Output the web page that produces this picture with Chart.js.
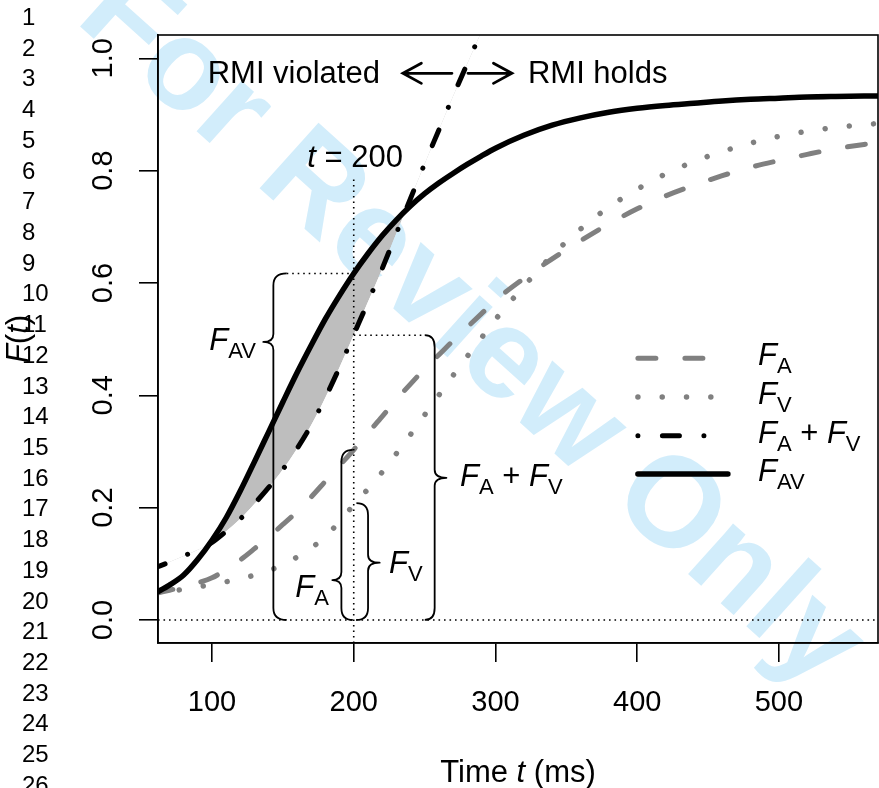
<!DOCTYPE html>
<html><head><meta charset="utf-8">
<script src="https://cdn.jsdelivr.net/npm/chart.js@4/dist/chart.umd.min.js"></script>
<style>html,body{margin:0;padding:0;background:#fff;overflow:hidden}canvas{display:block}</style>
</head><body>
<canvas id="c" width="879" height="788"></canvas>
<script>
// ---- data ----
const timeMs = [60,70,80,90,100,110,120,130,140,150,160,170,180,190,200,210,220,230,240,250,260,270,280,290,300,320,340,360,380,400,420,440,460,480,500,520,540,570];
const fAV = [.048,.062,.080,.108,.142,.182,.230,.282,.335,.388,.440,.489,.536,.578,.617,.652,.684,.712,.737,.759,.778,.795,.811,.826,.840,.863,.881,.894,.904,.911,.916,.920,.924,.927,.929,.931,.932,.933];
const fA  = [.047,.053,.059,.066,.075,.090,.107,.127,.148,.170,.193,.219,.247,.275,.303,.333,.362,.392,.420,.447,.472,.497,.521,.545,.569,.608,.643,.675,.705,.732,.755,.774,.791,.806,.818,.829,.839,.850];
const fV  = [.046,.050,.055,.059,.063,.068,.073,.080,.088,.098,.112,.128,.149,.175,.205,.233,.263,.296,.330,.365,.400,.435,.469,.502,.535,.594,.649,.696,.735,.767,.794,.816,.834,.849,.861,.870,.877,.884];
const timeSum = [60,70,80,90,100,110,120,130,140,150,160,170,180,190,200,210,220,230,240,250,260,270,280,290,300];
const fAplusV = [.093,.103,.114,.125,.138,.158,.180,.207,.236,.268,.305,.347,.396,.450,.508,.566,.625,.688,.750,.812,.872,.932,.990,1.047,1.104];
const xTicks = [100,200,300,400,500];
const xTickLabels = ['100','200','300','400','500'];
const yTicks = [0,0.2,0.4,0.6,0.8,1.0];
const yTickLabels = ['0.0','0.2','0.4','0.6','0.8','1.0'];
const lineNumbers = ['1','2','3','4','5','6','7','8','9','10','11','12','13','14','15','16','17','18','19','20','21','22','23','24','25','26'];
const xTitle = [['Time ','n'],['t','i'],[' (ms)','n']];
const yTitle = [['F','i'],['(','n'],['t','i'],[')','n']];
const legendLabels = [
  [['F','i'],['A','s']],
  [['F','i'],['V','s']],
  [['F','i'],['A','s'],[' + ','n'],['F','i'],['V','s']],
  [['F','i'],['AV','s']]
];

const FAM = '"Liberation Sans", Arial, Helvetica, sans-serif';
const GRAY = '#808080';
const styles = [
  {color: GRAY, width: 5, dash: [18, 29], offset: 0},
  {color: GRAY, width: 5.5, dash: [0.01, 24.3], offset: 0},
  {color: '#000', width: 5, dash: [0.01, 24.5, 17, 24.5], offset: 31},
  {color: '#000', width: 5.5, dash: [], offset: 0}
];

function fontFor(kind){
  if (kind === 'i') return 'italic 31px ' + FAM;
  if (kind === 's') return '22px ' + FAM;
  return '31px ' + FAM;
}
function mathWidth(c, parts){
  let w = 0;
  for (const [t,k] of parts){ c.font = fontFor(k); w += c.measureText(t).width; }
  return w;
}
function drawMath(c, parts, x, base, align){
  const w = mathWidth(c, parts);
  let cx = align === 'right' ? x - w : (align === 'center' ? x - w/2 : x);
  c.textAlign = 'left'; c.textBaseline = 'alphabetic'; c.fillStyle = '#000';
  for (const [t,k] of parts){
    c.font = fontFor(k);
    c.fillText(t, cx, k === 's' ? base + 8 : base);
    cx += c.measureText(t).width;
  }
}
function brace(c, xEnd, xStem, xTip, yBot, yTop, yTip){
  const r = 12, rt = 8;
  c.beginPath();
  c.moveTo(xEnd, yTop);
  c.quadraticCurveTo(xStem, yTop, xStem, yTop + r);
  c.lineTo(xStem, yTip - rt);
  c.quadraticCurveTo(xStem, yTip, xTip, yTip);
  c.quadraticCurveTo(xStem, yTip, xStem, yTip + rt);
  c.lineTo(xStem, yBot - r);
  c.quadraticCurveTo(xStem, yBot, xEnd, yBot);
  c.stroke();
}
function arrow(c, x0, y0, x1, y1){
  const ang = Math.atan2(y1-y0, x1-x0), L = 21, a = 28.6*Math.PI/180;
  c.beginPath();
  c.moveTo(x0,y0); c.lineTo(x1,y1);
  c.moveTo(x1 - L*Math.cos(ang-a), y1 - L*Math.sin(ang-a));
  c.lineTo(x1,y1);
  c.lineTo(x1 - L*Math.cos(ang+a), y1 - L*Math.sin(ang+a));
  c.stroke();
}

const annot = {
  id: 'annot',
  beforeDraw(chart){
    const c = chart.ctx;
    c.save();
    c.fillStyle = '#fff'; c.fillRect(0,0,chart.width,chart.height);
    c.translate(470, 330); c.rotate(42*Math.PI/180);
    c.font = 'bold 128px ' + FAM; c.fillStyle = '#d2edfb';
    c.textAlign = 'center'; c.textBaseline = 'middle';
    c.fillText('For Review Only', 0, 0);
    c.restore();
  },
  afterDatasetsDraw(chart){
    const c = chart.ctx, X = chart.scales.x, Y = chart.scales.y, A = chart.chartArea;
    const px = v => X.getPixelForValue(v), py = v => Y.getPixelForValue(v);
    c.save();
    c.beginPath(); c.rect(A.left, A.top, A.right-A.left, A.bottom-A.top); c.clip();
    // dotted reference lines
    c.strokeStyle = '#000'; c.lineWidth = 1.6; c.setLineDash([1.6, 3.9]); c.lineCap = 'butt';
    const dl = (x0,y0,x1,y1) => { c.beginPath(); c.moveTo(px(x0),py(y0)); c.lineTo(px(x1),py(y1)); c.stroke(); };
    dl(200, -0.041, 200, 0.79);
    dl(61.9, 0, 569.9, 0);
    dl(152.7, 0.617, 200, 0.617);
    dl(200, 0.507, 250.1, 0.507);
    c.setLineDash([]);
    // braces
    c.lineWidth = 1.8; c.lineJoin = 'round';
    brace(c, px(152.7), px(143.3), px(136.2), py(0), py(0.617), py(0.495));
    brace(c, px(199.3), px(191.3), px(184.9), py(0), py(0.303), py(0.071));
    brace(c, px(201.9), px(210.1), px(218.3), py(0), py(0.208), py(0.102));
    brace(c, px(250.1), px(257.1), px(265.4), py(0), py(0.507), py(0.253));
    // brace labels
    drawMath(c, [['F','i'],['AV','s']], px(131.0), py(0.481), 'right');
    drawMath(c, [['F','i'],['A','s']], px(182.5), py(0.041), 'right');
    drawMath(c, [['F','i'],['V','s']], px(224.9), py(0.084), 'left');
    drawMath(c, [['F','i'],['A','s'],[' + ','n'],['F','i'],['V','s']], px(275.0), py(0.2386), 'left');
    // t = 200
    drawMath(c, [['t','i'],[' = 200','n']], px(201), py(0.806), 'center');
    // RMI texts and arrows
    drawMath(c, [['RMI violated','n']], px(218.5), py(0.9555), 'right');
    drawMath(c, [['RMI holds','n']], px(322.9), py(0.9555), 'left');
    c.lineWidth = 2.8; c.lineCap = 'round'; c.lineJoin = 'miter';
    arrow(c, px(269.3), py(0.9733), px(234.7), py(0.9733));
    arrow(c, px(280.6), py(0.9733), px(311.6), py(0.9733));
    // legend
    const legY = [0.466, 0.397, 0.328, 0.260];
    for (let i = 0; i < 4; i++){
      const s = styles[i];
      c.strokeStyle = s.color; c.lineWidth = s.width; c.setLineDash(s.dash); c.lineDashOffset = 0; c.lineCap = 'round';
      c.beginPath(); c.moveTo(px(400.5), py(legY[i])); c.lineTo(px(464), py(legY[i])); c.stroke();
      c.setLineDash([]);
      drawMath(c, legendLabels[i], px(485.2), py(legY[i]) + 7, 'left');
    }
    c.restore();
  },
  afterDraw(chart){
    const c = chart.ctx, X = chart.scales.x, Y = chart.scales.y, A = chart.chartArea;
    c.save();
    c.strokeStyle = '#000'; c.lineWidth = 1.6;
    c.strokeRect(A.left, A.top, A.right-A.left, A.bottom-A.top);
    c.fillStyle = '#000';
    // x tick labels
    c.font = '29px ' + FAM; c.textAlign = 'center'; c.textBaseline = 'alphabetic';
    xTicks.forEach((v,i) => c.fillText(xTickLabels[i], X.getPixelForValue(v), 711));
    // y tick labels (rotated)
    yTicks.forEach((v,i) => {
      c.save(); c.translate(112, Y.getPixelForValue(v)); c.rotate(-Math.PI/2);
      c.fillText(yTickLabels[i], 0, 0); c.restore();
    });
    // axis titles
    drawMath(c, xTitle, (A.left + A.right)/2, 782, 'center');
    c.save(); c.translate(28, (A.top + A.bottom)/2); c.rotate(-Math.PI/2);
    drawMath(c, yTitle, 0, 0, 'center'); c.restore();
    // line numbers
    c.font = '24px ' + FAM; c.textAlign = 'left'; c.textBaseline = 'middle'; c.fillStyle = '#000';
    lineNumbers.forEach((s,i) => c.fillText(s, 22, 18.3 + i*30.72));
    c.restore();
  }
};

const mk = (xs, ys) => xs.map((t,i) => ({x: t, y: ys[i]}));
const common = {pointRadius: 0, cubicInterpolationMode: 'monotone', borderCapStyle: 'round', borderJoinStyle: 'round', clip: 0};

new Chart(document.getElementById('c'), {
  type: 'line',
  data: { datasets: [
    Object.assign({label: 'F_AV', data: mk(timeMs, fAV), borderColor: styles[3].color, borderWidth: styles[3].width, borderDash: styles[3].dash,
      fill: {target: 1, above: '#bebebe', below: 'rgba(0,0,0,0)'}, order: 0}, common),
    Object.assign({label: 'F_A + F_V', data: mk(timeSum, fAplusV), borderColor: styles[2].color, borderWidth: styles[2].width, borderDash: styles[2].dash, borderDashOffset: styles[2].offset, fill: false, order: 1}, common),
    Object.assign({label: 'F_A', data: mk(timeMs, fA), borderColor: styles[0].color, borderWidth: styles[0].width, borderDash: styles[0].dash, fill: false, order: 2}, common),
    Object.assign({label: 'F_V', data: mk(timeMs, fV), borderColor: styles[1].color, borderWidth: styles[1].width, borderDash: styles[1].dash, fill: false, order: 3}, common)
  ]},
  options: {
    responsive: false, animation: false, devicePixelRatio: 1,
    layout: {padding: {left: 0, top: 35, right: 1, bottom: 0}},
    plugins: {legend: {display: false}, tooltip: {enabled: false}, filler: {drawTime: 'beforeDatasetsDraw'}},
    scales: {
      x: {type: 'linear', min: 61.9, max: 569.9,
        afterBuildTicks: s => { s.ticks = xTicks.map(v => ({value: v})); },
        afterFit: s => { s.height = 145; },
        ticks: {display: false},
        grid: {drawOnChartArea: false, drawTicks: true, tickLength: 19, color: '#000', lineWidth: 1.6},
        border: {display: true, color: '#000', width: 1.6}},
      y: {type: 'linear', min: -0.041, max: 1.0415,
        afterBuildTicks: s => { s.ticks = yTicks.map(v => ({value: v})); },
        afterFit: s => { s.width = 158; },
        ticks: {display: false},
        grid: {drawOnChartArea: false, drawTicks: true, tickLength: 19, color: '#000', lineWidth: 1.6},
        border: {display: true, color: '#000', width: 1.6}}
    }
  },
  plugins: [annot]
});
</script>
</body></html>
